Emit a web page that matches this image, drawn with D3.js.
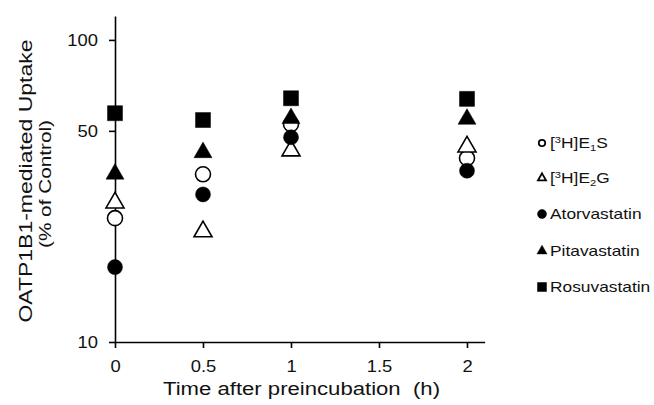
<!DOCTYPE html>
<html>
<head>
  <meta charset="utf-8">
  <title>OATP1B1 uptake</title>
  <style>
    body { margin: 0; background: #fff; }
    text { font-family: "Liberation Sans", Arial, sans-serif; fill: #111; }
  </style>
</head>
<body>
  <svg id="svg"></svg>

  <script src="https://d3js.org/d3.v7.min.js"></script>
  <script>
    // values (% of control)
    const times = [0, 0.5, 1, 2];
    const e1s = [25.7, 35.9, 52.6, 40.6];
    const e2g = [28.9, 23.2, 43.0, 44.3];
    const atorva = [17.7, 30.8, 47.6, 36.9];
    const pitava = [36.0, 42.4, 55.0, 54.7];
    const rosuva = [57.2, 54.3, 64.1, 63.8];

    const xTicks = [0, 0.5, 1, 1.5, 2];
    const yTicks = [10, 50, 100];

    const series = [
      { key: "e1s", values: e1s, shape: "circle", open: true },
      { key: "e2g", values: e2g, shape: "triangle", open: true },
      { key: "atorva", values: atorva, shape: "circle", open: false },
      { key: "pitava", values: pitava, shape: "triangle", open: false },
      { key: "rosuva", values: rosuva, shape: "square", open: false }
    ];

    const width = 654, height = 405;
    const svg = d3.select("#svg").attr("width", width).attr("height", height);

    const x = d3.scaleLinear().domain([0, 2.1]).range([115, 484.6]);
    const y = d3.scaleLog().domain([10, 120]).range([342, 16]);

    // marker shapes
    const big = { circle: Math.PI * 7.5 * 7.5, square: 15 * 15, triangle: Math.sqrt(3) / 4 * 18 * 18 };
    const smallOpen = { circle: Math.PI * 3.2 * 3.2, triangle: Math.sqrt(3) / 4 * 8 * 8 };
    const smallFill = { circle: Math.PI * 4.5 * 4.5, square: 9 * 9, triangle: Math.sqrt(3) / 4 * 10 * 10 };
    const symType = { circle: d3.symbolCircle, square: d3.symbolSquare, triangle: d3.symbolTriangle };

    // axes
    const yAxis = svg.append("g")
      .attr("transform", `translate(${x(0)},0)`)
      .call(d3.axisLeft(y).tickValues(yTicks).tickFormat(d3.format("d")).tickSize(6).tickSizeOuter(0));

    const xAxis = svg.append("g")
      .attr("transform", `translate(0,${y(10)})`)
      .call(d3.axisBottom(x).tickValues(xTicks).tickFormat(d => d).tickSize(6).tickSizeOuter(0));

    [xAxis, yAxis].forEach(g => {
      g.select(".domain").attr("stroke", "#000").attr("stroke-width", 1.6);
      g.selectAll(".tick line").attr("stroke", "#000").attr("stroke-width", 1.6);
      g.selectAll("text").attr("font-size", 16).attr("fill", "#111");
    });

    yAxis.selectAll(".tick text")
      .attr("x", 0).attr("dy", "0.34em")
      .attr("transform", "translate(-17,0) scale(1.15,1)");

    xAxis.selectAll(".tick text")
      .attr("x", 0).attr("y", 19)
      .attr("transform", "scale(1.15,1)");

    // points
    series.forEach(s => {
      svg.append("g").selectAll("path")
        .data(times.map((t, i) => ({ t, v: s.values[i] })))
        .join("path")
        .attr("transform", d => `translate(${x(d.t)},${y(d.v)})`)
        .attr("d", d3.symbol(symType[s.shape], big[s.shape]))
        .attr("fill", s.open ? "#fff" : "#000")
        .attr("stroke", "#000")
        .attr("stroke-width", s.open ? 1.6 : 0.5);
    });

    // axis titles
    svg.append("text")
      .attr("x", 301.5).attr("y", 395)
      .attr("text-anchor", "middle")
      .attr("font-size", 17.5)
      .attr("textLength", 277).attr("lengthAdjust", "spacingAndGlyphs")
      .text("Time after preincubation\u00a0\u00a0(h)");

    svg.append("text")
      .attr("transform", "translate(32,181) rotate(-90)")
      .attr("text-anchor", "middle")
      .attr("font-size", 18)
      .attr("textLength", 283).attr("lengthAdjust", "spacingAndGlyphs")
      .text("OATP1B1-mediated Uptake");

    svg.append("text")
      .attr("transform", "translate(51,184) rotate(-90)")
      .attr("text-anchor", "middle")
      .attr("font-size", 17)
      .attr("textLength", 128).attr("lengthAdjust", "spacingAndGlyphs")
      .text("(% of Control)");

    // legend
    const legendRows = [143, 178, 214, 251, 287];
    const legend = svg.append("g");
    series.forEach((s, i) => {
      const row = legend.append("g").attr("transform", `translate(542,${legendRows[i]})`);
      row.append("path")
        .attr("d", d3.symbol(symType[s.shape], (s.open ? smallOpen : smallFill)[s.shape]))
        .attr("fill", s.open ? "#fff" : "#000")
        .attr("stroke", "#000")
        .attr("stroke-width", s.open ? 1.8 : 0.5);
      const t = row.append("text")
        .attr("transform", "translate(8,0) scale(1.24,1)")
        .attr("dy", "0.35em")
        .attr("font-size", 14);
      if (s.key === "e1s" || s.key === "e2g") {
        t.append("tspan").text("[");
        t.append("tspan").attr("font-size", 9).attr("dy", -5).text("3");
        t.append("tspan").attr("dy", 5).text("H]E");
        t.append("tspan").attr("font-size", 9).attr("dy", 3).text(s.key === "e1s" ? "1" : "2");
        t.append("tspan").attr("dy", -3).text(s.key === "e1s" ? "S" : "G");
      } else {
        t.text({ atorva: "Atorvastatin", pitava: "Pitavastatin", rosuva: "Rosuvastatin" }[s.key]);
      }
    });
  </script>
</body>
</html>
